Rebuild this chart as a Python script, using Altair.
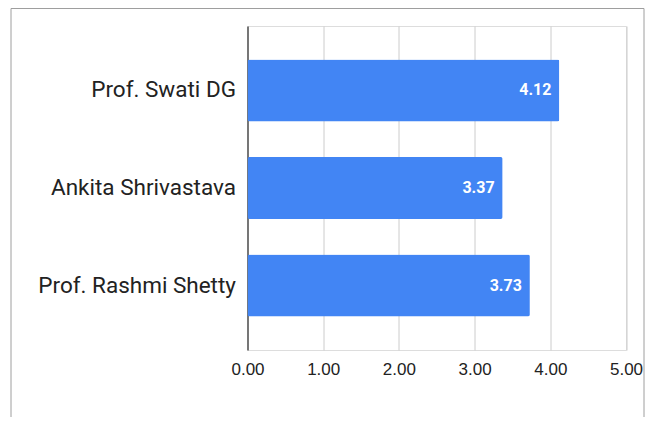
import altair as alt
import pandas as pd

names = ["Prof. Swati DG", "Ankita Shrivastava", "Prof. Rashmi Shetty"]
scores = [4.12, 3.37, 3.73]
x_ticks = [0, 1, 2, 3, 4, 5]

df = pd.DataFrame({"name": names, "score": scores})
df["label"] = [f"{v:.2f}" for v in scores]

W, H = 378.5, 324
PL, PT, PR, PB = 239.5, 18, 21, 67

y_enc = alt.Y(
    "name:N",
    sort=None,
    title=None,
    scale=alt.Scale(paddingInner=0.364, paddingOuter=0.343),
    axis=alt.Axis(
        ticks=False, domain=True, domainColor="#333333", domainWidth=1.2,
        labelFont="Roboto", labelFontSize=22.5, labelColor="#222222",
        labelPadding=12, labelLimit=300,
    ),
)
x_enc = alt.X(
    "score:Q",
    title=None,
    scale=alt.Scale(domain=[0, 5], nice=False, zero=True),
    axis=alt.Axis(
        values=x_ticks, format=".2f", ticks=False, domain=False,
        grid=True, gridColor="#cccccc", gridWidth=1,
        labelFont="Liberation Sans", labelFontSize=17, labelColor="#222222",
        labelPadding=11, labelFlush=False,
    ),
)

base = alt.Chart(df)
bars = base.mark_bar(color="#4285F4", cornerRadius=2).encode(x=x_enc, y=y_enc)
labels = base.mark_text(
    align="right", baseline="middle", dx=-8, color="white",
    font="Roboto", fontSize=16, fontWeight="bold",
).encode(x="score:Q", y=alt.Y("name:N", sort=None), text="label:N")

one = alt.Chart(pd.DataFrame({"a": [0]}))
bx0, bx1, by0, by1 = 3 - PL, 636 - PL, 0.5 - PT, H + PB
border_l = one.mark_rule(color="#9e9e9e", strokeWidth=1).encode(
    x=alt.value(bx0), y=alt.value(by0), y2=alt.value(by1))
border_r = one.mark_rule(color="#9e9e9e", strokeWidth=1).encode(
    x=alt.value(bx1), y=alt.value(by0), y2=alt.value(by1))
border_t = one.mark_rule(color="#9e9e9e", strokeWidth=1).encode(
    x=alt.value(bx0), x2=alt.value(bx1), y=alt.value(by0))

chart = alt.layer(bars, labels, border_l, border_r, border_t).properties(
    width=W, height=H,
    autosize=alt.AutoSizeParams(type="none"),
    padding={"left": PL, "top": PT, "right": PR, "bottom": PB},
).configure_view(stroke=None).configure(background="white")

chart.save("out.html", embed_options={"renderer": "svg", "actions": False})
